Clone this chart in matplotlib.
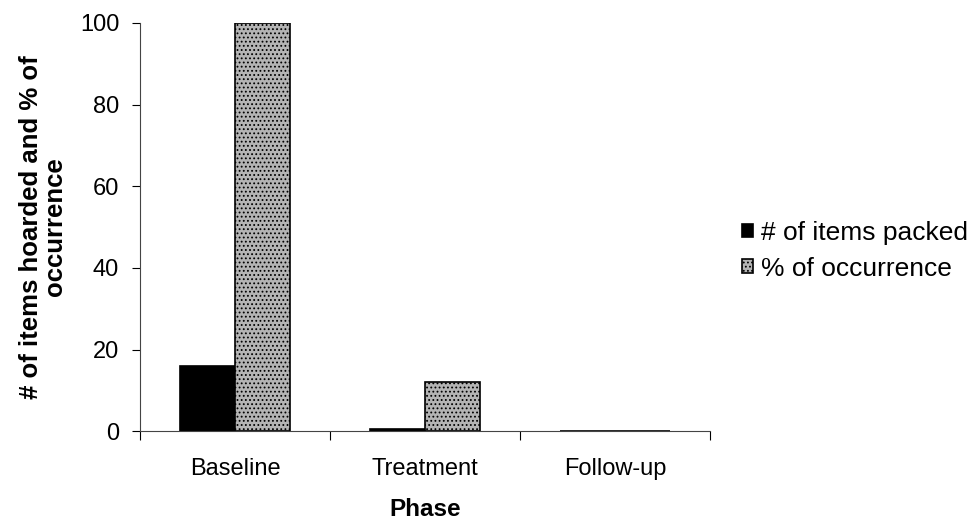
""" Grouped bar chart of hoarding items and occurrence by phase """

import matplotlib
matplotlib.use("Agg")
import matplotlib.pyplot as plt
import numpy as np

phases = ["Baseline", "Treatment", "Follow-up"]
items_packed = [16, 0.5, 0]
occurrence = [100, 12, 0]

plt.rcParams["font.family"] = ["Liberation Sans", "DejaVu Sans"]
plt.rcParams["hatch.color"] = "#555555"
plt.rcParams["hatch.linewidth"] = 0.8

fig = plt.figure(figsize=(9.74, 5.22), dpi=100)
ax = fig.add_axes([0.1437, 0.174, 0.5853, 0.782])

centers = np.arange(len(phases)) + 0.5
width = 0.29
ax.bar(centers - width / 2, items_packed, width, color="black",
       edgecolor="black", linewidth=1.2, label="# of items packed")
ax.bar(centers + width / 2, occurrence, width, color="#b4b4b4",
       edgecolor="black", linewidth=1.2, hatch="....",
       label="% of occurrence")

ax.set_xlim(0, len(phases))
ax.set_ylim(0, 100)
ax.set_yticks(np.arange(0, 101, 20))
ax.set_xticks(np.arange(len(phases) + 1))
ax.set_xticklabels([])
ax.set_xticks(centers, minor=True)
ax.set_xticklabels(phases, minor=True, fontsize=17)
ax.tick_params(axis="x", which="minor", length=0, pad=19)
ax.tick_params(axis="x", which="major", direction="out", length=6.5)
ax.tick_params(axis="y", labelsize=17, length=6, direction="out", pad=9)

for side in ["top", "right"]:
    ax.spines[side].set_visible(False)
ax.spines["left"].set_color("#444444")
ax.spines["bottom"].set_color("#444444")

ax.set_xlabel("Phase", fontsize=17.5, fontweight="bold", labelpad=13)
ax.set_ylabel("# of items hoarded and % of\noccurrence", fontsize=18.5,
              fontweight="bold", labelpad=9, linespacing=1.02)

ax.legend(loc="center left", bbox_to_anchor=(1.014, 0.442), frameon=False,
          fontsize=19, handlelength=0.42, handleheight=0.42,
          handletextpad=0.3, labelspacing=0.45)

plt.savefig("out.png", dpi=100)
